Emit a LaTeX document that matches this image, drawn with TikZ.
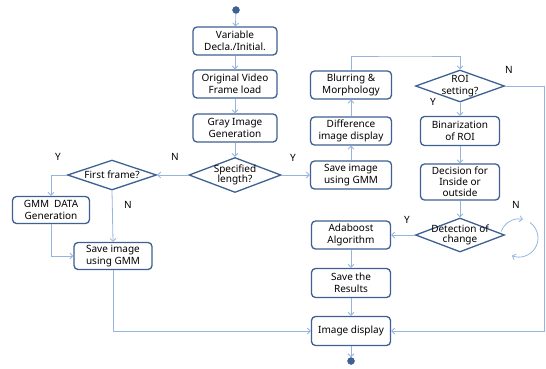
\documentclass[tikz,border=0pt]{standalone}
\usepackage{fontspec}
\setmainfont{Noto Sans}
\usetikzlibrary{shapes.geometric,arrows.meta}
\definecolor{boxblue}{RGB}{62,96,146}
\definecolor{arrblue}{RGB}{150,180,222}
\begin{document}
\begin{tikzpicture}[x=1pt,y=-1pt,
  font=\fontsize{10}{12}\selectfont,
  box/.style={draw=boxblue, line width=1.3pt, rounded corners=4pt, align=center, inner sep=0pt, minimum width=80pt, minimum height=28pt},
  dia/.style={draw=boxblue, line width=1.3pt, diamond, inner sep=0pt},
  txt/.style={align=center, inner sep=0pt},
  arr/.style={draw=arrblue, line width=0.8pt, -{Straight Barb[length=3pt,width=6pt]}},
  lbl/.style={inner sep=0pt},
  dot/.style={circle, fill=boxblue, draw=boxblue, inner sep=0pt, minimum size=7pt}]
\useasboundingbox (0,0) rectangle (546,368);

% top column
\node[dot] (start) at (236,10) {};
\node[box, minimum width=84pt] (var) at (235,41) {Variable\\Decla./Initial.};
\node[box, minimum width=84pt] (orig) at (235,84) {Original Video\\Frame load};
\node[box, minimum width=84pt] (gray) at (235,128) {Gray Image\\Generation};
\node[dia, minimum width=92pt, minimum height=35pt] (spec) at (235,175) {};
\node[txt, font=\fontsize{10}{10.5}\selectfont] at (spec) {Specified\\length?};

% left column
\node[dia, minimum width=89pt, minimum height=30pt] (first) at (112,175) {};
\node[txt] at (first) {First frame?};
\node[box, minimum width=77pt, minimum height=27pt] (gmm) at (51,210) {GMM\enspace DATA\\Generation};
\node[box, minimum width=78pt, minimum height=27pt] (save1) at (113,256) {Save image\\using GMM};

% middle column
\node[box, minimum width=81pt] (save2) at (351,175) {Save image\\using GMM};
\node[box, minimum width=81pt] (diff) at (351,131) {Difference\\image display};
\node[box, minimum width=81pt] (blur) at (351,85) {Blurring \&\\Morphology};
\node[box, minimum width=79pt] (ada) at (351,235) {Adaboost\\Algorithm};
\node[box, minimum width=79pt, minimum height=29pt] (res) at (351,283) {Save the\\Results};
\node[box, minimum width=79pt, minimum height=29pt] (disp) at (351,331) {Image display};
\node[dot] (end) at (351,361) {};

% right column
\node[dia, minimum width=89pt, minimum height=32pt] (roi) at (460,86) {};
\node[txt] at (roi) {ROI\\setting?};
\node[box, minimum width=79pt, minimum height=29pt] (bin) at (460,131) {Binarization\\of ROI};
\node[box, minimum width=79pt, minimum height=36pt, font=\fontsize{10}{11}\selectfont] (dec) at (460,182) {Decision for\\Inside or\\outside};
\node[dia, minimum width=89pt, minimum height=34pt] (det) at (460,235) {};
\node[txt, font=\fontsize{10}{10.5}\selectfont] at (det) {Detection of\\change};

% helper coordinates
\coordinate (topbend) at (405,56);
\coordinate (rightbend) at (544,86);

% connectors
\draw[arr] (start) -- (var);
\draw[arr] (var) -- (orig);
\draw[arr] (orig) -- (gray);
\draw[arr] (gray) -- (spec);
\draw[arr] (spec.east) -- (save2.west);
\draw[arr] (spec.west) -- (first.east);
\draw[arr] (first.west) -| (gmm.north);
\draw[arr] (first.south) -- (save1.north);
\draw[arr] (gmm.south) |- (save1.west);
\draw[arr] (save1.south) |- (disp.west);
\draw[arr] (save2) -- (diff);
\draw[arr] (diff) -- (blur);
\draw[arr] (blur.north) |- (topbend) -| (roi.north);
\draw[arr] (roi) -- (bin);
\draw[arr] (bin) -- (dec);
\draw[arr] (dec) -- (det);
\draw[arr] (roi.east) -- (rightbend) |- (disp.east);
\draw[arr] (det.west) -- (ada.east);
\draw[arr] (ada) -- (res);
\draw[arr] (res) -- (disp);
\draw[arr] (disp) -- (end);

% self loop on "Detection of change" (page angles, canvas units)
\coordinate (lc) at (519,238);
\draw[arr] ([shift={(160:19pt)}]lc) arc[start angle=160, end angle=78, radius=19pt];
\draw[arr] ([shift={(55:19pt)}]lc) arc[start angle=55, end angle=-112, radius=19pt];

% labels
\node[lbl] (ly1) at (293,158) {Y};
\node[lbl] (ln1) at (175,157) {N};
\node[lbl] (ly2) at (58,157) {Y};
\node[lbl] (ln2) at (128,205) {N};
\node[lbl] (ln3) at (509,70) {N};
\node[lbl] (ly3) at (433,102) {Y};
\node[lbl] (ly4) at (407,220) {Y};
\node[lbl] (ln4) at (516,205) {N};
\end{tikzpicture}
\end{document}
